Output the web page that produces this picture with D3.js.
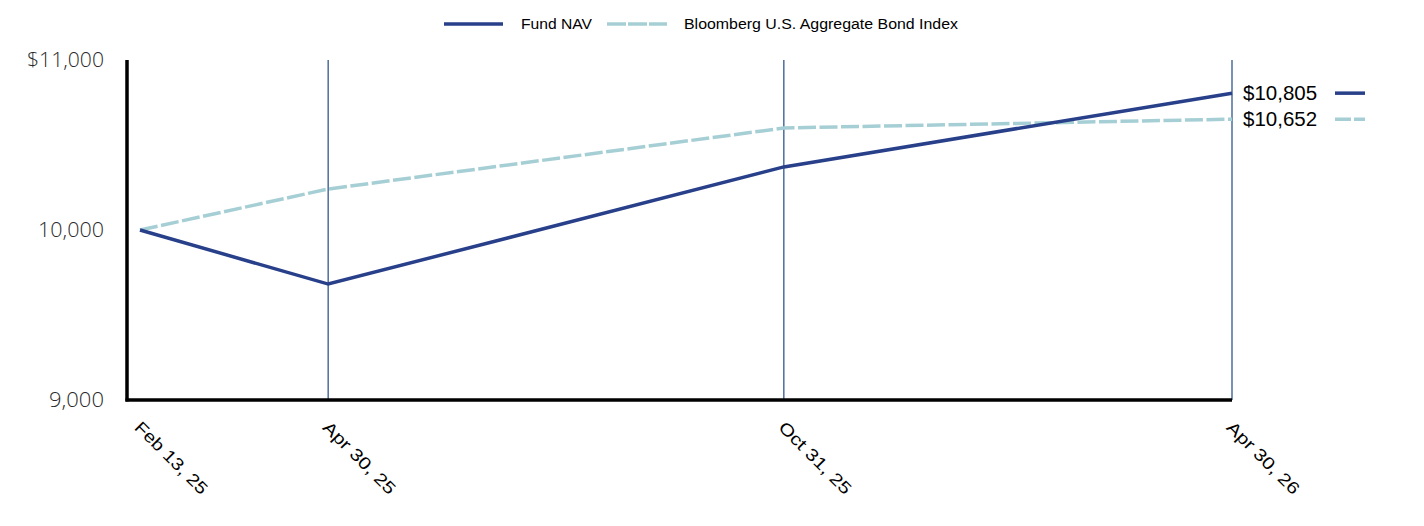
<!DOCTYPE html>
<html><head><meta charset="utf-8">
<script src="https://cdn.jsdelivr.net/npm/d3@7"></script>
<style>body{margin:0;background:#fff}svg{display:block}</style>
</head><body><svg id="c" width="1424" height="526"></svg>
<script>
const dates = ["2025-02-13","2025-04-30","2025-10-31","2026-04-30"];
const tickLabels = ["Feb 13, 25","Apr 30, 25","Oct 31, 25","Apr 30, 26"];
const fundNAV = [10000, 9682, 10371, 10805];
const bondIndex = [10000, 10241, 10600, 10652];
const yTicks = [9000, 10000, 11000];
const yTickLabels = ["9,000","10,000","$11,000"];
const endLabels = ["$10,805","$10,652"];

const svg = d3.select("#c");
const parse = d3.timeParse("%Y-%m-%d");
const D = dates.map(parse);
const x = d3.scaleTime().domain([D[0], D[3]]).range([140, 1232]);
const y = d3.scaleLinear().domain([9000, 11000]).range([400, 60]);

// gridlines
svg.append("g").selectAll("line").data(D.slice(1)).join("line")
  .attr("x1", d => x(d)).attr("x2", d => x(d)).attr("y1", y(11000)).attr("y2", y(9000))
  .attr("stroke", "#4d6d9a").attr("stroke-width", 1.5);

// axes
svg.append("line").attr("x1",127).attr("x2",127).attr("y1",y(11000)).attr("y2",y(9000)+1.5)
  .attr("stroke","#000").attr("stroke-width",3.5);
svg.append("line").attr("x1",125.5).attr("x2",x(D[3])).attr("y1",y(9000)).attr("y2",y(9000))
  .attr("stroke","#000").attr("stroke-width",3.5);

// y labels
svg.append("g").selectAll("text").data(yTicks).join("text")
  .attr("x", 104).attr("y", d => y(d)).attr("dy","0.35em").attr("text-anchor","end")
  .attr("font-family","'Open Sans'").attr("font-weight",300).attr("font-size",20).attr("fill","#2a2a2a")
  .attr("textLength", (d,i)=> yTickLabels[i].length*11).attr("lengthAdjust","spacingAndGlyphs")
  .text((d,i)=>yTickLabels[i]);

// x labels
svg.append("g").selectAll("text").data(D).join("text")
  .attr("transform", d => `translate(${x(d)+2},${420}) rotate(45)`)
  .attr("dy","0.7em")
  .attr("font-family","'Liberation Sans', Arial").attr("font-size",17).attr("fill","#000")
  .attr("textLength", 95).attr("lengthAdjust","spacingAndGlyphs")
  .text((d,i)=>tickLabels[i]);

const line = d3.line().x((d,i)=>x(D[i])).y(d=>y(d));
svg.append("path").datum(bondIndex).attr("d", line).attr("fill","none")
  .attr("stroke","#a6cfd5").attr("stroke-width",3.5).attr("stroke-dasharray","18,3.5");
svg.append("path").datum(fundNAV).attr("d", line).attr("fill","none")
  .attr("stroke","#283f8a").attr("stroke-width",3.5);

// end labels
const endVals = [fundNAV[3], bondIndex[3]];
const endCols = ["#283f8a","#a6cfd5"];
endVals.forEach((v,i)=>{
  svg.append("text").attr("x",1243).attr("y",y(v)).attr("dy","0.35em")
    .attr("font-family","'Liberation Sans', Arial").attr("font-size",20.5).attr("fill","#000")
    .text(endLabels[i]);
  svg.append("line").attr("x1",1335).attr("x2",1365).attr("y1",y(v)).attr("y2",y(v))
    .attr("stroke",endCols[i]).attr("stroke-width",3.5).attr("stroke-dasharray", i? "16,3":null);
});

// legend
const lg = svg.append("g").attr("font-family","'Liberation Sans', Arial").attr("font-size",15.5).attr("fill","#000");
lg.append("line").attr("x1",444).attr("x2",503).attr("y1",24).attr("y2",24).attr("stroke","#283f8a").attr("stroke-width",3.5);
lg.append("text").attr("x",521).attr("y",24).attr("dy","0.35em").attr("textLength",71).attr("lengthAdjust","spacingAndGlyphs").text("Fund NAV");
lg.append("line").attr("x1",607).attr("x2",667).attr("y1",24).attr("y2",24).attr("stroke","#a6cfd5").attr("stroke-width",3.5).attr("stroke-dasharray","19,2");
lg.append("text").attr("x",684).attr("y",24).attr("dy","0.35em").attr("textLength",274).attr("lengthAdjust","spacingAndGlyphs").text("Bloomberg U.S. Aggregate Bond Index");
</script></body></html>
